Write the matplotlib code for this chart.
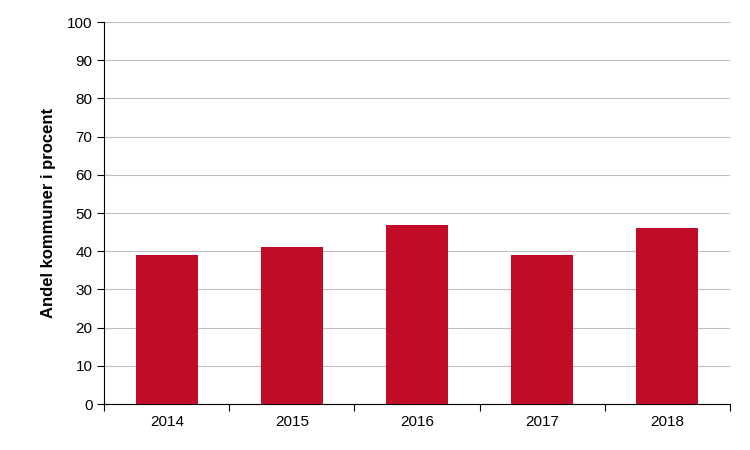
import matplotlib
matplotlib.use("Agg")
import matplotlib.pyplot as plt
import numpy as np

years = ["2014", "2015", "2016", "2017", "2018"]
values = [39, 41, 47, 39, 46]

plt.rcParams['font.family'] = ['Liberation Sans', 'DejaVu Sans']
fig = plt.figure(figsize=(7.5, 4.5), dpi=100)
ax = fig.add_axes([0.139, 0.102, 0.834, 0.849])
x = np.arange(len(years))
ax.bar(x, values, width=0.5, color="#C00C27", zorder=3)
ax.set_xlim(-0.5, len(years) - 0.5)
ax.set_ylim(0, 100)
ax.set_yticks(range(0, 101, 10))
ax.yaxis.grid(True, color="#BFBFBF", linewidth=0.8, zorder=0)
ax.set_xticks(np.arange(-0.5, len(years), 1))
ax.set_xticklabels([])
ax.set_xticks(x, minor=True)
ax.set_xticklabels(years, minor=True)
ax.tick_params(axis='x', which='minor', length=0, labelsize=11, pad=8)
ax.tick_params(axis='x', which='major', length=5, direction='out')
ax.tick_params(axis='y', length=5, direction='out', labelsize=11)
for s in ["top", "right"]:
    ax.spines[s].set_visible(False)
for s in ["left", "bottom"]:
    ax.spines[s].set_color("#000000")
ax.set_ylabel("Andel kommuner i procent", fontsize=12, fontweight="bold", labelpad=8)
fig.savefig("out.png", dpi=100)
